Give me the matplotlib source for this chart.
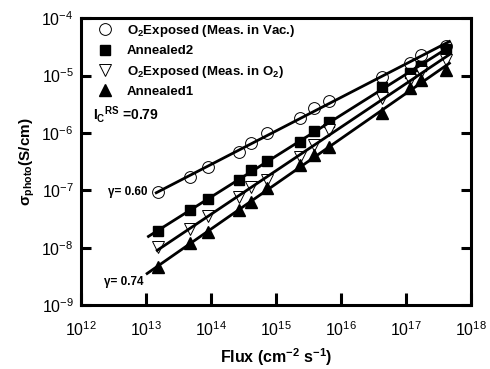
import numpy as np
import matplotlib
matplotlib.use("Agg")
import matplotlib.pyplot as plt
from matplotlib.ticker import NullLocator

plt.rcParams["font.family"] = ["Liberation Sans", "DejaVu Sans"]
plt.rcParams["mathtext.default"] = "regular"

# photon flux (cm^-2 s^-1), shared by all series
flux = [1.57e13, 4.79e13, 9.05e13, 2.71e14, 4.15e14, 7.30e14, 2.34e15,
        3.85e15, 6.53e15, 4.26e16, 1.15e17, 1.69e17, 4.10e17]

# photoconductivity (S/cm)
o2_vac = [9.3e-8, 1.70e-7, 2.54e-7, 4.65e-7, 6.67e-7, 9.95e-7, 1.82e-6,
          2.72e-6, 3.60e-6, 9.46e-6, 1.66e-5, 2.29e-5, 3.29e-5]
annealed2 = [1.94e-8, 4.51e-8, 7.02e-8, 1.51e-7, 2.25e-7, 3.23e-7, 6.93e-7,
             1.08e-6, 1.55e-6, 6.32e-6, 1.11e-5, 1.47e-5, 2.92e-5]
o2_in_o2 = [1.02e-8, 2.10e-8, 3.55e-8, 7.61e-8, 1.14e-7, 1.51e-7, 3.79e-7,
            6.15e-7, 1.12e-6, 4.06e-6, 8.37e-6, 1.16e-5, 1.87e-5]
annealed1 = [4.57e-9, 1.20e-8, 1.87e-8, 4.51e-8, 6.22e-8, 1.09e-7, 2.75e-7,
             4.11e-7, 5.68e-7, 2.22e-6, 6.08e-6, 8.37e-6, 1.25e-5]

labels = ["O$_2$Exposed (Meas. in Vac.)", "Annealed2",
          "O$_2$Exposed (Meas. in O$_2$)", "Annealed1"]
# x range of each power-law fit line
fit_ranges = [(1.45e13, 4.6e17), (1.1e13, 4.6e17), (1.5e13, 4.6e17), (1.05e13, 4.6e17)]

x_decades = [1e12, 1e13, 1e14, 1e15, 1e16, 1e17, 1e18]
y_decades = [1e-9, 1e-8, 1e-7, 1e-6, 1e-5, 1e-4]

series = [
    (o2_vac, dict(marker="o", mfc="white", mec="black", ms=8.5, mew=0.7)),
    (annealed2, dict(marker="s", mfc="black", mec="black", ms=7)),
    (o2_in_o2, dict(marker="v", mfc="white", mec="black", ms=9, mew=0.7)),
    (annealed1, dict(marker="^", mfc="black", mec="black", ms=9)),
]

fig = plt.figure(figsize=(4.9, 3.69), dpi=100)
ax = fig.add_axes([0.1645, 0.1734, 0.7975, 0.777])

x = np.array(flux)
for (y, style), lab, (x0, x1) in zip(series, labels, fit_ranges):
    y = np.array(y)
    slope, icpt = np.polyfit(np.log10(x), np.log10(y), 1)
    xf = np.array([x0, x1])
    ax.plot(xf, 10 ** (icpt + slope * np.log10(xf)), color="black", lw=2, zorder=3)
    ax.plot(x, y, ls="none", label=lab, zorder=2, **style)

ax.set_xscale("log")
ax.set_yscale("log")
ax.set_xticks(x_decades)
ax.set_yticks(y_decades)
ax.set_xlim(1e12, 1e18)
ax.set_ylim(1e-9, 1e-4)
ax.xaxis.set_minor_locator(NullLocator())
ax.yaxis.set_minor_locator(NullLocator())

for s in ax.spines.values():
    s.set_linewidth(2.2)
ax.tick_params(axis="x", which="major", direction="in", length=9, width=2.2,
               labelsize=11.5, pad=11, top=False)
ax.tick_params(axis="y", which="major", direction="in", length=7, width=2.2,
               labelsize=11.5, pad=5, right=True)

ax.set_xlabel("Flux (cm$^{-2}$ s$^{-1}$)", fontsize=11.5, fontweight="bold", labelpad=5)
ax.set_ylabel("σ$_{photo}$(S/cm)", fontsize=11, fontweight="bold", labelpad=3)

ax.legend(loc="upper left", bbox_to_anchor=(0.045, 0.985), frameon=False,
          prop=dict(weight="bold", size=9.5), handlelength=1, handletextpad=1.15,
          labelspacing=0.48, borderaxespad=0, borderpad=0)

ax.text(0.032, 0.665, "I$_C$$^{RS}$ =0.79", transform=ax.transAxes,
        fontsize=10, fontweight="bold", va="center", ha="left")
ax.text(1.08e13, 9.3e-8, "γ= 0.60", fontsize=8.5, fontweight="bold",
        ha="right", va="center")
ax.text(9.1e12, 2.5e-9, "γ= 0.74", fontsize=8.5, fontweight="bold",
        ha="right", va="center")

fig.savefig("out.png", dpi=100)
